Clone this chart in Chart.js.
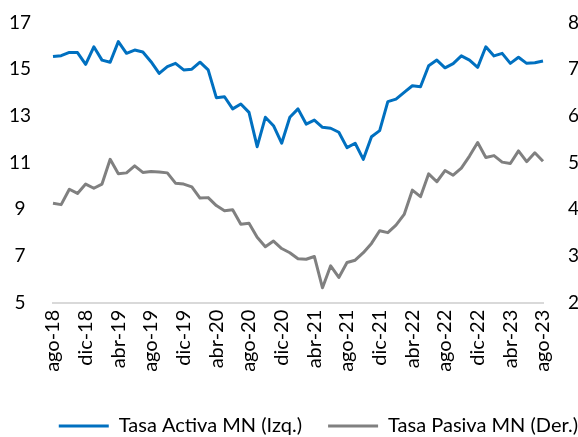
<!DOCTYPE html>
<html>
<head>
<meta charset="utf-8">
<script src="https://cdn.jsdelivr.net/npm/chart.js@4/dist/chart.umd.min.js"></script>
<style>
  html, body { margin: 0; padding: 0; background: #fff; overflow: hidden; }
</style>
</head>
<body>
<canvas id="c" width="578" height="437"></canvas>
<script>
const categories = [
  'ago-18','sep-18','oct-18','nov-18','dic-18','ene-19','feb-19','mar-19','abr-19','may-19','jun-19','jul-19',
  'ago-19','sep-19','oct-19','nov-19','dic-19','ene-20','feb-20','mar-20','abr-20','may-20','jun-20','jul-20',
  'ago-20','sep-20','oct-20','nov-20','dic-20','ene-21','feb-21','mar-21','abr-21','may-21','jun-21','jul-21',
  'ago-21','sep-21','oct-21','nov-21','dic-21','ene-22','feb-22','mar-22','abr-22','may-22','jun-22','jul-22',
  'ago-22','sep-22','oct-22','nov-22','dic-22','ene-23','feb-23','mar-23','abr-23','may-23','jun-23','jul-23',
  'ago-23'
];

const tasaActiva = [
  15.54, 15.58, 15.72, 15.71, 15.21, 15.96, 15.39, 15.30, 16.18, 15.68,
  15.82, 15.74, 15.32, 14.82, 15.11, 15.25, 14.97, 15.00, 15.30, 14.97,
  13.78, 13.82, 13.30, 13.51, 13.15, 11.68, 12.94, 12.58, 11.83, 12.94,
  13.30, 12.65, 12.82, 12.51, 12.47, 12.30, 11.64, 11.83, 11.14, 12.11,
  12.37, 13.61, 13.72, 14.01, 14.29, 14.25, 15.15, 15.39, 15.06, 15.24,
  15.57, 15.39, 15.08, 15.96, 15.57, 15.68, 15.25, 15.51, 15.25, 15.28,
  15.35
];

const tasaPasiva = [
  4.13, 4.10, 4.43, 4.34, 4.54, 4.45, 4.54, 5.07, 4.76, 4.78,
  4.93, 4.79, 4.81, 4.80, 4.78, 4.56, 4.54, 4.48, 4.24, 4.25,
  4.08, 3.97, 3.99, 3.68, 3.70, 3.40, 3.20, 3.32, 3.16, 3.07,
  2.94, 2.93, 2.99, 2.32, 2.79, 2.54, 2.86, 2.91, 3.07, 3.27,
  3.54, 3.50, 3.66, 3.89, 4.41, 4.27, 4.76, 4.59, 4.83, 4.73,
  4.88, 5.14, 5.43, 5.11, 5.15, 5.01, 4.98, 5.25, 5.02, 5.21,
  5.03
];

const seriesNames = ['Tasa Activa MN (Izq.)', 'Tasa Pasiva MN (Der.)'];
const leftTicks = [5, 7, 9, 11, 13, 15, 17];
const rightTicks = [2, 3, 4, 5, 6, 7, 8];

Chart.defaults.font.family = 'Lato, "Open Sans", sans-serif';
Chart.defaults.font.size = 20;
Chart.defaults.color = '#000';

new Chart(document.getElementById('c'), {
  type: 'line',
  data: {
    labels: categories,
    datasets: [
      { label: seriesNames[0], data: tasaActiva, yAxisID: 'yL', borderColor: '#0070C0', backgroundColor: '#0070C0',
        borderWidth: 3, pointRadius: 0, tension: 0, borderJoinStyle: 'round' },
      { label: seriesNames[1], data: tasaPasiva, yAxisID: 'yR', borderColor: '#808080', backgroundColor: '#808080',
        borderWidth: 3, pointRadius: 0, tension: 0, borderJoinStyle: 'round' }
    ]
  },
  options: {
    responsive: false,
    animation: false,
    devicePixelRatio: 1,
    layout: { padding: { top: 22.5, left: 0, right: -26, bottom: -9 } },
    plugins: {
      tooltip: { enabled: false },
      legend: {
        position: 'bottom',
        align: 'end',
        labels: {
          boxWidth: 50, boxHeight: 3, padding: 26, font: { size: 20 },
          generateLabels(chart) {
            return chart.data.datasets.map((ds, i) => ({
              text: ds.label, fillStyle: ds.borderColor, strokeStyle: ds.borderColor,
              lineWidth: 0, hidden: false, datasetIndex: i
            }));
          }
        }
      }
    },
    scales: {
      x: {
        offset: false,
        grid: { display: false, drawTicks: false },
        border: { display: true, color: '#d9d9d9', width: 2 },
        ticks: {
          autoSkip: false, minRotation: 90, maxRotation: 90, padding: 7, font: { size: 20 },
          callback: function (val, idx) { return idx % 4 === 0 ? this.getLabelForValue(val) : ''; }
        },
        afterFit(scale) { scale.height = 87.3; }
      },
      yL: {
        position: 'left', min: 5, max: 17,
        grid: { display: false, drawTicks: false }, border: { display: false },
        afterBuildTicks(scale) { scale.ticks = leftTicks.map(v => ({ value: v })); },
        ticks: { padding: 22, crossAlign: 'center', font: { size: 19 } },
        afterFit(scale) { scale.width = 53; scale.paddingTop = 0; scale.paddingBottom = 0; }
      },
      yR: {
        position: 'right', min: 2, max: 8,
        grid: { display: false, drawTicks: false }, border: { display: false },
        afterBuildTicks(scale) { scale.ticks = rightTicks.map(v => ({ value: v })); },
        ticks: { padding: 25, crossAlign: 'near', font: { size: 19 } },
        afterFit(scale) { scale.width = 61; scale.paddingTop = 0; scale.paddingBottom = 0; }
      }
    }
  }
});
</script>
</body>
</html>
